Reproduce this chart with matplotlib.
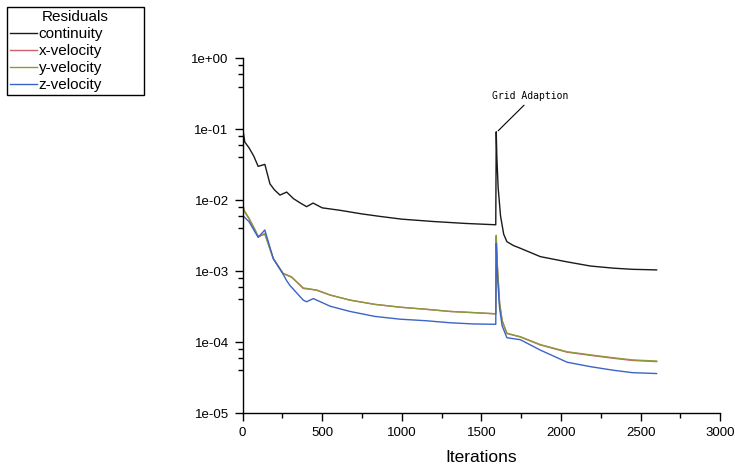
import numpy as np
import matplotlib
matplotlib.use("Agg")
from matplotlib import pyplot as plt
from matplotlib.ticker import LogLocator, NullFormatter, MultipleLocator

# Residual history (iteration, residual)
cont_it = [0, 2, 5, 14, 40, 70, 98, 120, 140, 172, 200, 235, 277, 320, 360,
           402, 443, 500, 612, 750, 864, 1000, 1200, 1400, 1590, 1593, 1597,
           1605, 1620, 1640, 1660, 1700, 1744, 1870, 2038, 2184, 2330, 2450, 2600]
continuity = [0.40, 0.15, 0.09, 0.066, 0.055, 0.042, 0.030, 0.031, 0.032, 0.017,
              0.014, 0.0118, 0.013, 0.0105, 0.0092, 0.0081, 0.0091, 0.0078,
              0.0072, 0.0064, 0.0059, 0.0054, 0.0050, 0.0047, 0.0045, 0.092,
              0.04, 0.015, 0.006, 0.0033, 0.0026, 0.0023, 0.0021, 0.0016,
              0.00135, 0.00118, 0.0011, 0.00106, 0.00104]

vel_it = [0, 10, 40, 77, 98, 140, 193, 255, 308, 381, 465, 550, 675, 830, 990,
          1150, 1304, 1450, 1590, 1593, 1600, 1614, 1630, 1660, 1744, 1870,
          2038, 2184, 2330, 2450, 2600]
x_vel = [0.0085, 0.007, 0.0055, 0.0038, 0.003, 0.0034, 0.0015, 0.00093, 0.00083,
         0.00057, 0.00054, 0.00046, 0.00039, 0.00034, 0.00031, 0.00029, 0.00027,
         0.00026, 0.00025, 0.0030, 0.0012, 0.00035, 0.0002, 0.000132, 0.000118,
         0.000091, 0.000072, 0.000065, 0.000059, 0.000055, 0.000053]
y_vel = [0.0095, 0.0072, 0.0056, 0.0039, 0.0031, 0.0033, 0.0015, 0.00092, 0.00082,
         0.00058, 0.00054, 0.00046, 0.00039, 0.00034, 0.00031, 0.00029, 0.00027,
         0.00026, 0.00025, 0.0032, 0.0012, 0.00036, 0.0002, 0.000133, 0.000119,
         0.000092, 0.000073, 0.000066, 0.00006, 0.000056, 0.000054]

z_it = [0, 10, 40, 77, 98, 140, 193, 255, 276, 297, 381, 402, 444, 500, 550,
        675, 830, 990, 1150, 1304, 1450, 1590, 1593, 1600, 1614, 1630, 1660,
        1744, 1870, 2038, 2184, 2330, 2450, 2600]
z_vel = [0.0062, 0.0058, 0.005, 0.0036, 0.003, 0.0038, 0.0015, 0.0009, 0.00074,
         0.00063, 0.00039, 0.00037, 0.00041, 0.00036, 0.00032, 0.00027, 0.00023,
         0.00021, 0.0002, 0.000187, 0.00018, 0.000178, 0.00246, 0.0009, 0.0003,
         0.00017, 0.000115, 0.000108, 0.000077, 0.000052, 0.000045, 0.00004,
         0.000037, 0.000036]

series_names = ['continuity', 'x-velocity', 'y-velocity', 'z-velocity']
series_colors = ['#1a1a1a', '#d06070', '#8c9a3c', '#3a64c8']

xticks = [0, 500, 1000, 1500, 2000, 2500, 3000]
yticks = [1e-5, 1e-4, 1e-3, 1e-2, 1e-1, 1e0]
ytick_labels = ['1e-05', '1e-04', '1e-03', '1e-02', '1e-01', '1e+00']

plt.rcParams['font.family'] = ['Liberation Sans', 'DejaVu Sans']

fig = plt.figure(figsize=(7.35, 4.72), dpi=100)
ax = fig.add_axes([0.330, 0.125, 0.650, 0.7515])

data = [(cont_it, continuity), (vel_it, x_vel), (vel_it, y_vel), (z_it, z_vel)]
for (it, val), name, col in zip(data, series_names, series_colors):
    ax.plot(it, val, color=col, lw=1.0, label=name)

ax.set_yscale('log')
ax.set_xlim(0, 3000)
ax.set_ylim(1e-5, 1e0)
ax.set_xticks(xticks)
ax.set_xticklabels([str(t) for t in xticks])
ax.xaxis.set_minor_locator(MultipleLocator(250))
ax.set_yticks(yticks)
ax.set_yticklabels(ytick_labels)
ax.yaxis.set_minor_locator(LogLocator(base=10, subs=(4.0, 6.0, 8.0)))
ax.yaxis.set_minor_formatter(NullFormatter())

ax.spines['top'].set_visible(False)
ax.spines['right'].set_visible(False)
for s in ['left', 'bottom']:
    ax.spines[s].set_linewidth(1.0)
ax.tick_params(which='major', direction='out', length=6, width=1, labelsize=9.5, pad=4)
ax.tick_params(which='minor', direction='out', length=3.5, width=1)

ax.set_xlabel('Iterations', fontsize=12.5, labelpad=8)

ax.annotate('Grid Adaption', xy=(1605, 0.095), xytext=(1566, 0.29),
            fontsize=7, family='DejaVu Sans Mono', ha='left', va='center',
            arrowprops=dict(arrowstyle='-', color='black', lw=0.8,
                            relpos=(0.47, 0.0), shrinkA=1, shrinkB=0))

# legend box sits in the top-left corner of the figure, wider than its text
leg = ax.legend(loc='upper left', bbox_to_anchor=(7/735, 1 - 90/472, 137/735, 83/472),
                bbox_transform=fig.transFigure, mode='expand', title='Residuals',
                fontsize=11, title_fontsize=11, fancybox=False, framealpha=1,
                edgecolor='black', borderpad=0.22, borderaxespad=0,
                handlelength=1.75, handletextpad=0.1, labelspacing=0.19)
leg.get_frame().set_linewidth(1.0)

fig.savefig('out.png', dpi=100)
